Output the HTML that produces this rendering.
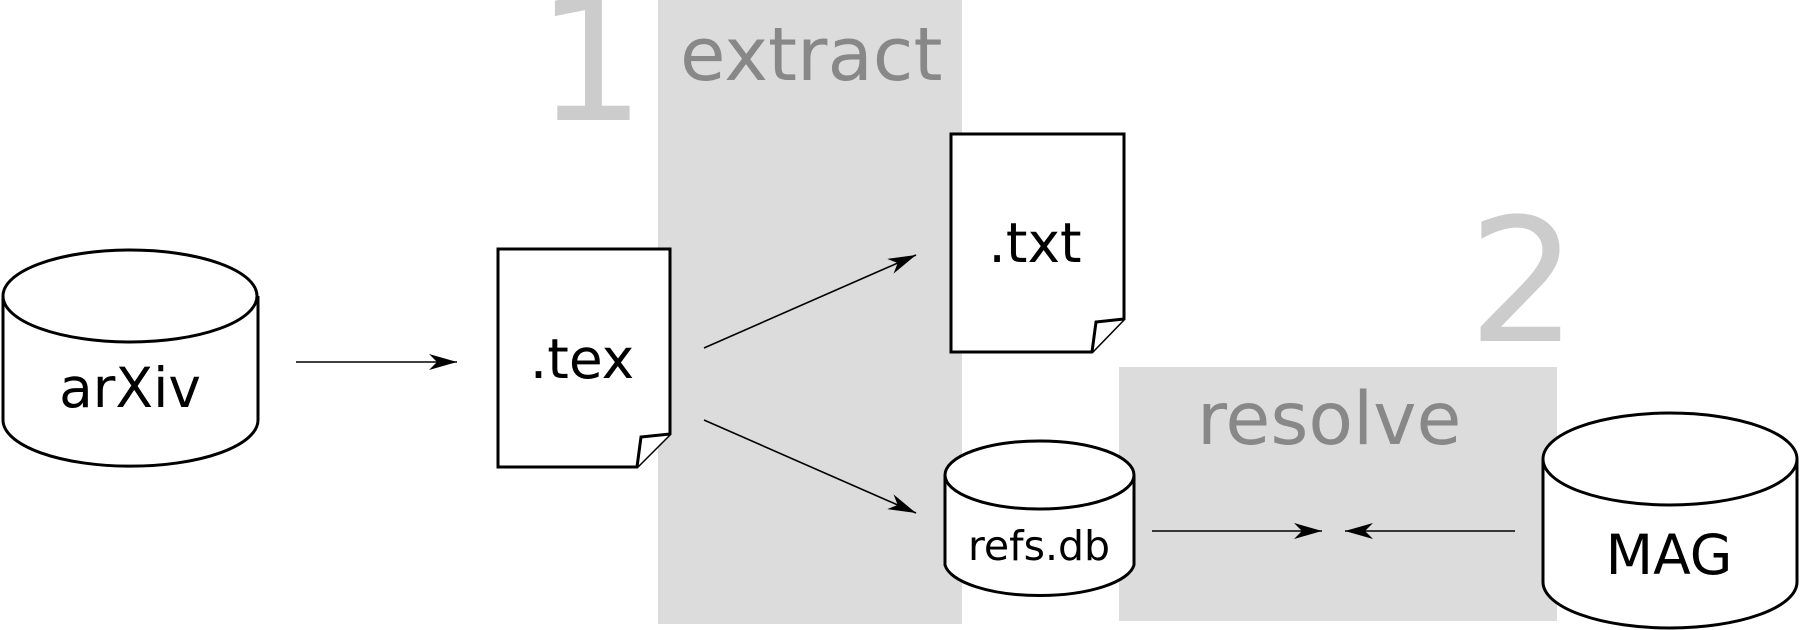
<!DOCTYPE html>
<html><head><meta charset="utf-8"><style>
html,body{margin:0;padding:0;background:#fff;}
svg{display:block;}
text{font-family:"DejaVu Sans","Liberation Sans",sans-serif;}
</style></head><body>
<svg width="1800" height="630" viewBox="0 0 1800 630" xmlns="http://www.w3.org/2000/svg">
<defs>
<marker id="ah" markerWidth="30" markerHeight="16" refX="28" refY="8" orient="auto" markerUnits="userSpaceOnUse">
<path d="M0,0 L28,8 L0,16 L8,8 Z" fill="#000"/>
</marker>
</defs>
<rect x="658" y="0" width="304" height="624" fill="#dcdcdc"/>
<rect x="1119" y="367" width="438" height="254" fill="#dcdcdc"/>
<text x="536" y="120" font-size="172" fill="#cccccc">1</text>
<text x="680" y="80" font-size="74" fill="#888">extract</text>
<text x="1468" y="341" font-size="172" fill="#cccccc">2</text>
<text x="1197" y="444" font-size="73" fill="#888">resolve</text>

<g stroke="#000" stroke-width="3" fill="#fff">
<path d="M3,296 L3,420 A127,46 0 0 0 258,420 L258,296"/>
<ellipse cx="130" cy="296" rx="127" ry="46"/>
<path d="M945,475 L945,565 A95,34 0 0 0 1134,565 L1134,475"/>
<ellipse cx="1039.5" cy="475" rx="94.5" ry="34"/>
<path d="M1543,459 L1543,582 A127,46 0 0 0 1797,582 L1797,459"/>
<ellipse cx="1670" cy="459" rx="127" ry="46"/>
<path d="M498,249 L670,249 L670,434 L637,467 L498,467 Z"/>
<path d="M670,434 L641,437 L637,467" fill="#fff"/>
<path d="M951,134 L1124,134 L1124,319 L1092,352 L951,352 Z"/>
<path d="M1124,319 L1096,322 L1092,352" fill="#fff"/>
</g>

<g stroke="#000" stroke-width="1.6" fill="none">
<line x1="296" y1="362" x2="457" y2="362" marker-end="url(#ah)"/>
<line x1="704" y1="348" x2="916" y2="255" marker-end="url(#ah)"/>
<line x1="704" y1="420" x2="916" y2="513" marker-end="url(#ah)"/>
<line x1="1152" y1="531" x2="1322" y2="531" marker-end="url(#ah)"/>
<line x1="1515" y1="531" x2="1345" y2="531" marker-end="url(#ah)"/>
</g>

<g fill="#000" text-anchor="middle">
<text x="130" y="407" font-size="55">arXiv</text>
<text x="582" y="378" font-size="55">.tex</text>
<text x="1035" y="262" font-size="55">.txt</text>
<text x="1039" y="560" font-size="41">refs.db</text>
<text x="1669" y="574" font-size="55">MAG</text>
</g>
</svg>
</body></html>
